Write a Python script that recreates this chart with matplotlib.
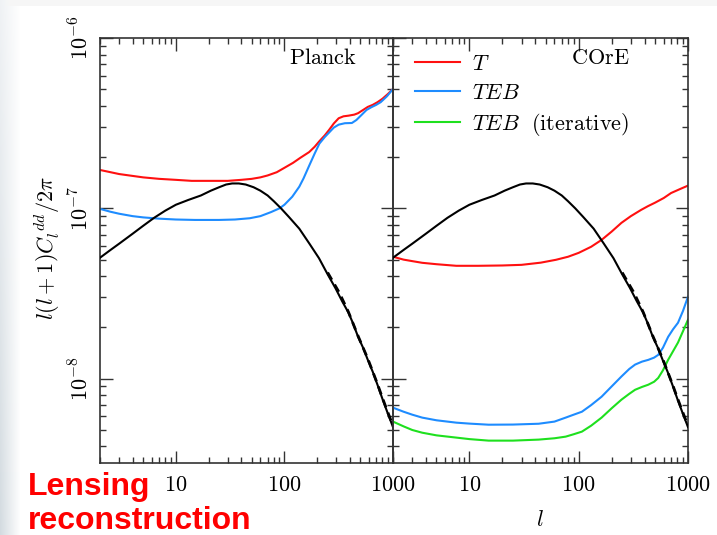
import numpy as np
import matplotlib
matplotlib.use("Agg")
import matplotlib.pyplot as plt
from matplotlib.ticker import LogLocator, NullFormatter, FuncFormatter, FixedLocator

plt.rcParams['mathtext.fontset'] = 'cm'
plt.rcParams['font.family'] = ['DejaVu Serif']

# ---------------- data ----------------
# theory lensing-potential spectrum (same in both panels)
l_theory = [2, 2.5, 3, 4, 5, 6.3, 8, 10, 13, 17, 21, 25, 29, 33, 38, 44, 52, 60, 70, 80, 93, 110,
            137, 170, 208, 250, 295, 340, 389, 430, 477, 530, 586, 650, 720, 800, 900, 1000]
cl_theory = [5.13e-8, 5.7e-8, 6.2e-8, 7.1e-8, 7.9e-8, 8.8e-8, 9.7e-8, 1.05e-7, 1.12e-7, 1.19e-7,
             1.27e-7, 1.33e-7, 1.38e-7, 1.40e-7, 1.40e-7, 1.38e-7, 1.33e-7, 1.27e-7, 1.19e-7, 1.10e-7,
             1.0e-7, 8.9e-8, 7.6e-8, 6.2e-8, 5.1e-8, 4.1e-8, 3.4e-8, 2.85e-8, 2.44e-8, 2.1e-8, 1.76e-8,
             1.52e-8, 1.29e-8, 1.1e-8, 9.2e-9, 7.6e-9, 6.2e-9, 5.2e-9]
# nonlinear (dashed) theory at high l
l_theory_nl = [250, 320, 389, 477, 586, 720, 800, 900, 1000]
cl_theory_nl = [4.2e-8, 3.2e-8, 2.46e-8, 1.78e-8, 1.31e-8, 9.3e-9, 7.7e-9, 6.3e-9, 5.3e-9]

# Planck noise
l_planck_T = [2, 2.5, 3, 4, 5, 7, 10, 14, 20, 30, 40, 50, 60, 70, 85, 100, 120, 140, 169, 190, 210,
              235, 257, 285, 316, 350, 389, 440, 477, 530, 586, 650, 720, 800, 900, 1000]
n_planck_T = [1.68e-7, 1.63e-7, 1.59e-7, 1.55e-7, 1.52e-7, 1.49e-7, 1.47e-7, 1.45e-7, 1.45e-7, 1.45e-7,
              1.47e-7, 1.49e-7, 1.52e-7, 1.56e-7, 1.63e-7, 1.73e-7, 1.85e-7, 1.98e-7, 2.14e-7, 2.3e-7,
              2.48e-7, 2.68e-7, 2.88e-7, 3.15e-7, 3.38e-7, 3.47e-7, 3.5e-7, 3.55e-7, 3.62e-7, 3.78e-7,
              3.94e-7, 4.05e-7, 4.2e-7, 4.4e-7, 4.7e-7, 5.02e-7]
l_planck_TEB = [2, 2.5, 3, 4, 5, 7, 10, 15, 25, 35, 48, 60, 75, 90, 100, 118, 137, 150, 169, 190, 210,
                235, 257, 285, 316, 360, 418, 460, 512, 570, 630, 700, 770, 880, 1000]
n_planck_TEB = [9.93e-8, 9.55e-8, 9.3e-8, 9.0e-8, 8.85e-8, 8.7e-8, 8.6e-8, 8.55e-8, 8.55e-8, 8.6e-8,
                8.75e-8, 9.0e-8, 9.5e-8, 1.0e-7, 1.05e-7, 1.17e-7, 1.34e-7, 1.5e-7, 1.78e-7, 2.1e-7,
                2.4e-7, 2.62e-7, 2.78e-7, 2.98e-7, 3.1e-7, 3.16e-7, 3.17e-7, 3.3e-7, 3.53e-7, 3.78e-7,
                3.92e-7, 4.05e-7, 4.2e-7, 4.55e-7, 5.02e-7]

# COrE noise
l_core_T = [2, 2.5, 3, 3.7, 5, 7.6, 12, 20, 30, 45, 62, 80, 100, 130, 162, 200, 246, 300, 373, 430,
            500, 600, 700, 850, 1000]
n_core_T = [5.2e-8, 5.0e-8, 4.9e-8, 4.79e-8, 4.7e-8, 4.6e-8, 4.6e-8, 4.62e-8, 4.66e-8, 4.8e-8, 4.99e-8,
            5.2e-8, 5.48e-8, 5.95e-8, 6.53e-8, 7.3e-8, 8.22e-8, 9.0e-8, 9.8e-8, 1.03e-7, 1.08e-7, 1.15e-7,
            1.23e-7, 1.3e-7, 1.36e-7]
l_core = [2, 2.5, 3, 3.7, 5, 7.6, 10, 15, 25, 43, 60, 76, 90, 107, 130, 162, 200, 246, 290, 328, 380,
          433, 490, 534, 590, 658, 730, 810, 900, 1000]
n_core_TEB = [6.76e-9, 6.4e-9, 6.15e-9, 5.91e-9, 5.7e-9, 5.52e-9, 5.45e-9, 5.37e-9, 5.38e-9, 5.44e-9,
              5.6e-9, 5.91e-9, 6.15e-9, 6.4e-9, 7.0e-9, 7.84e-9, 9.0e-9, 1.03e-8, 1.14e-8, 1.21e-8,
              1.26e-8, 1.29e-8, 1.33e-8, 1.38e-8, 1.52e-8, 1.76e-8, 1.95e-8, 2.13e-8, 2.5e-8, 3.03e-8]
n_core_TEB_iter = [5.6e-9, 5.25e-9, 5.0e-9, 4.82e-9, 4.65e-9, 4.51e-9, 4.42e-9, 4.33e-9, 4.33e-9, 4.39e-9,
                   4.47e-9, 4.57e-9, 4.72e-9, 4.89e-9, 5.3e-9, 5.91e-9, 6.7e-9, 7.53e-9, 8.15e-9, 8.61e-9,
                   8.95e-9, 9.22e-9, 9.6e-9, 1.01e-8, 1.12e-8, 1.29e-8, 1.45e-8, 1.63e-8, 1.9e-8, 2.22e-8]

legend_labels = [r'$T$', r'$TEB$', r'$TEB\ \ \mathrm{(iterative)}$']
panel_names = [r'$\mathrm{Planck}$', r'$\mathrm{COrE}$']
x_ticks = [10, 100, 1000]
y_ticks = [1e-8, 1e-7, 1e-6]

RED, BLUE, GREEN = '#ff1010', '#1e8cff', '#1ee01e'
SPINE = '#333333'

W, H = 717, 535
fig = plt.figure(figsize=(W / 100, H / 100), dpi=100)

# background: subtle grey-blue gradient strip on the left and top
bg = fig.add_axes([0, 0, 1, 1], zorder=-10)
img = np.ones((H, W, 3))
xs = np.arange(W)
ys = np.arange(H)
strip = np.clip(1 - xs / 20.0, 0, 1)[None, :, None]
top_col = np.array([0.94, 0.95, 0.96])
bot_col = np.array([0.83, 0.86, 0.88])
tcol = (ys / H)[:, None, None]
col = top_col * (1 - tcol) + bot_col * tcol
img = img * (1 - strip) + col * strip
topband = (ys < 6)[:, None, None]
img = np.where(topband, np.minimum(img, 0.965), img)
bg.imshow(img, aspect='auto', extent=[0, 1, 0, 1])
bg.axis('off')

ax_bottom = 1 - 463 / H
ax_h = 425 / H
axL = fig.add_axes([100 / W, ax_bottom, 293 / W, ax_h])
axR = fig.add_axes([393 / W, ax_bottom, 295 / W, ax_h])

for ax in (axL, axR):
    ax.set_xscale('log')
    ax.set_yscale('log')
    ax.set_xlim(2, 1000)
    ax.set_ylim(3.2e-9, 1e-6)
    ax.xaxis.set_major_locator(FixedLocator(x_ticks))
    ax.xaxis.set_minor_locator(LogLocator(base=10, subs=np.arange(2, 10)))
    ax.yaxis.set_major_locator(FixedLocator(y_ticks))
    ax.yaxis.set_minor_locator(LogLocator(base=10, subs=np.arange(2, 10)))
    ax.xaxis.set_minor_formatter(NullFormatter())
    ax.yaxis.set_minor_formatter(NullFormatter())
    ax.xaxis.set_major_formatter(FuncFormatter(lambda v, p: r'$%d$' % round(v)))
    ax.tick_params(which='both', direction='in', top=True, right=True, color=SPINE, width=1.0)
    ax.tick_params(which='major', length=9)
    ax.tick_params(which='minor', length=4.5)
    ax.tick_params(axis='x', which='major', labelsize=16, pad=8)
    for s in ax.spines.values():
        s.set_color(SPINE)
        s.set_linewidth(1.2)
    ax.set_facecolor('none')
    ax.plot(l_theory, cl_theory, color='black', lw=1.5, zorder=3)
    ax.plot(l_theory_nl, cl_theory_nl, color='black', lw=2.0, ls=(0, (3, 2)), zorder=3)

axL.yaxis.set_major_formatter(FuncFormatter(lambda v, p: r'$10^{%d}$' % round(np.log10(v))))
axL.tick_params(axis='y', which='major', labelsize=16, pad=5)
for lab in axL.get_yticklabels():
    lab.set_rotation(90)
    lab.set_va('center')
axR.yaxis.set_major_formatter(NullFormatter())

# Planck panel
axL.plot(l_planck_T, n_planck_T, color=RED, lw=1.5)
axL.plot(l_planck_TEB, n_planck_TEB, color=BLUE, lw=1.5)
axL.text(0.877, 0.952, panel_names[0], transform=axL.transAxes, ha='right', va='center', fontsize=16)

# COrE panel
hT, = axR.plot(l_core_T, n_core_T, color=RED, lw=1.5)
hB, = axR.plot(l_core, n_core_TEB, color=BLUE, lw=1.5)
hG, = axR.plot(l_core, n_core_TEB_iter, color=GREEN, lw=1.5)
axR.text(0.803, 0.952, panel_names[1], transform=axR.transAxes, ha='right', va='center', fontsize=16)
leg = axR.legend([hT, hB, hG], legend_labels, loc='upper left', frameon=False, fontsize=16,
                 handlelength=2.0, handletextpad=0.55, labelspacing=0.3,
                 borderaxespad=0.0, bbox_to_anchor=(0.045, 0.985))

# axis labels
fig.text(47 / W, 1 - 248 / H, r'$l(l+1)C_l^{\ dd}/2\pi$', rotation=90, ha='center', va='center', fontsize=16)
fig.text(540 / W, 1 - 520 / H, r'$l$', ha='center', va='center', fontsize=16)

# overlay title text
fig.text(28 / W, 1 - 495 / H, 'Lensing', color='#ff0000', fontsize=23, fontweight='bold',
         family='Liberation Sans', ha='left', va='baseline')
fig.text(28 / W, 1 - 529 / H, 'reconstruction', color='#ff0000', fontsize=23, fontweight='bold',
         family='Liberation Sans', ha='left', va='baseline')

fig.savefig('out.png', dpi=100)
